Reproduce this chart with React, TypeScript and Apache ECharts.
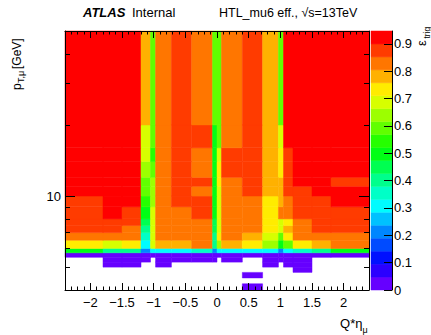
import React, { useEffect, useRef } from 'react';
import * as echarts from 'echarts';

// ---- data ----
const etaEdges = [-2.4, -1.8, -1.5, -1.2, -1.05, -0.97, -0.72, -0.4, -0.07, 0, 0.07, 0.4, 0.72, 0.97, 1.05, 1.2, 1.5, 1.8, 2.4];
const ptEdges = [4, 4.25, 4.5, 4.75, 5, 5.25, 5.5, 5.75, 6, 6.5, 7, 7.5, 8, 9, 10, 11, 12, 14, 16, 20, 50];

const n = null;
// efficiency per pT bin (ascending), 18 eta bins each
const eff: (number | null)[][] = [
  /* 4.00-4.25 */ [n, n, n, n, n, n, n, n, n, n, n, 0.02, n, n, n, n, n, n],
  /* 4.25-4.50 */ [n, n, n, n, n, n, n, n, n, n, n, n, n, n, n, n, n, n],
  /* 4.50-4.75 */ [n, n, n, n, n, n, n, n, n, n, n, 0.02, n, n, n, n, n, n],
  /* 4.75-5.00 */ [n, n, n, n, n, n, n, n, n, n, n, n, n, n, n, 0.02, n, n],
  /* 5.00-5.25 */ [n, 0.02, 0.02, n, n, 0.02, n, n, n, n, n, n, 0.02, n, 0.02, 0.02, n, n],
  /* 5.25-5.50 */ [n, 0.02, 0.02, 0.02, n, 0.02, 0.02, 0.02, 0.02, n, 0.02, n, 0.02, 0.02, 0.02, 0.02, n, n],
  /* 5.50-5.75 */ [0.02, 0.02, 0.02, 0.02, 0.02, 0.02, 0.02, 0.02, 0.02, 0.02, 0.02, 0.02, 0.02, 0.02, 0.02, 0.02, 0.02, 0.02],
  /* 5.75-6.00 */ [0.50, 0.40, 0.40, 0.21, 0.31, 0.31, 0.31, 0.36, 0.21, 0.31, 0.31, 0.31, 0.31, 0.21, 0.31, 0.36, 0.40, 0.50],
  /* 6.0-6.5 */ [0.73, 0.69, 0.73, 0.31, 0.69, 0.78, 0.78, 0.83, 0.40, 0.64, 0.78, 0.73, 0.64, 0.50, 0.59, 0.73, 0.78, 0.83],
  /* 6.5-7.0 */ [0.83, 0.83, 0.83, 0.36, 0.69, 0.83, 0.83, 0.83, 0.40, 0.73, 0.83, 0.78, 0.69, 0.59, 0.73, 0.83, 0.83, 0.83],
  /* 7.0-7.5 */ [0.88, 0.88, 0.83, 0.40, 0.69, 0.83, 0.83, 0.83, 0.45, 0.69, 0.83, 0.83, 0.73, 0.69, 0.78, 0.83, 0.88, 0.88],
  /* 7.5-8.0 */ [0.88, 0.88, 0.88, 0.45, 0.69, 0.83, 0.83, 0.83, 0.45, 0.69, 0.83, 0.83, 0.73, 0.69, 0.73, 0.83, 0.88, 0.88],
  /* 8-9 */ [0.88, 0.93, 0.88, 0.50, 0.69, 0.83, 0.83, 0.88, 0.50, 0.69, 0.83, 0.83, 0.73, 0.83, 0.83, 0.88, 0.88, 0.88],
  /* 9-10 */ [0.88, 0.93, 0.93, 0.55, 0.64, 0.83, 0.88, 0.88, 0.50, 0.69, 0.83, 0.83, 0.73, 0.78, 0.83, 0.88, 0.88, 0.93],
  /* 10-11 */ [0.93, 0.93, 0.93, 0.59, 0.64, 0.83, 0.88, 0.83, 0.50, 0.69, 0.83, 0.88, 0.78, 0.78, 0.88, 0.88, 0.93, 0.93],
  /* 11-12 */ [0.93, 0.93, 0.93, 0.59, 0.64, 0.83, 0.88, 0.88, 0.50, 0.73, 0.83, 0.88, 0.78, 0.78, 0.88, 0.93, 0.93, 0.88],
  /* 12-14 */ [0.93, 0.93, 0.93, 0.64, 0.59, 0.83, 0.88, 0.83, 0.50, 0.73, 0.88, 0.88, 0.78, 0.73, 0.88, 0.93, 0.93, 0.93],
  /* 14-16 */ [0.93, 0.93, 0.93, 0.69, 0.55, 0.83, 0.88, 0.83, 0.50, 0.69, 0.88, 0.88, 0.78, 0.73, 0.88, 0.93, 0.93, 0.93],
  /* 16-20 */ [0.93, 0.93, 0.93, 0.69, 0.59, 0.83, 0.88, 0.88, 0.50, 0.59, 0.83, 0.88, 0.78, 0.69, 0.93, 0.93, 0.93, 0.93],
  /* 20-50 */ [0.93, 0.93, 0.93, 0.78, 0.59, 0.83, 0.88, 0.83, 0.59, 0.59, 0.83, 0.88, 0.78, 0.59, 0.93, 0.93, 0.93, 0.93],
];

const xMajorTicks = [-2, -1.5, -1, -0.5, 0, 0.5, 1, 1.5, 2];
const yMajorTicks = [10];
const yMinorTicks = [5, 6, 7, 8, 9, 20, 30, 40];
const zTicks = [0, 0.1, 0.2, 0.3, 0.4, 0.5, 0.6, 0.7, 0.8, 0.9];
const zMax = 0.947;
const nBands = 20;

// ---- styling helpers ----
const FONT = '"Liberation Sans", Arial, Helvetica, sans-serif';

const xMinorTicks: number[] = [];
for (let i = -24; i <= 24; i++) if (i % 5 !== 0) xMinorTicks.push(i / 10);

function hsv(h: number): string {
  const hh = h / 60;
  const x = 1 - Math.abs((hh % 2) - 1);
  let r = 0, g = 0, b = 0;
  if (hh < 1) { r = 1; g = x; } else if (hh < 2) { r = x; g = 1; } else if (hh < 3) { g = 1; b = x; }
  else if (hh < 4) { g = x; b = 1; } else if (hh < 5) { r = x; b = 1; } else { r = 1; b = x; }
  const to = (v: number) => Math.round(v * 255).toString(16).padStart(2, '0');
  return '#' + to(r) + to(g) + to(b);
}
const palette = Array.from({ length: nBands }, (_, j) => hsv(264 - (j * 264) / (nBands - 1)));
const step = zMax / nBands;
const colorOf = (v: number) => palette[Math.min(nBands - 1, Math.max(0, Math.floor(v / step)))];

const cells: number[][] = [];
eff.forEach((row, i) =>
  row.forEach((v, j) => {
    if (v !== null) cells.push([etaEdges[j], etaEdges[j + 1], Math.log10(ptEdges[i]), Math.log10(ptEdges[i + 1]), v]);
  })
);
const barCells = palette.map((_, k) => [0, 1, k * step, (k + 1) * step, (k + 0.5) * step]);

const renderCell = (_p: any, api: any) => {
  const a = api.coord([api.value(0), api.value(3)]);
  const b = api.coord([api.value(1), api.value(2)]);
  const fill = colorOf(api.value(4));
  return {
    type: 'rect',
    shape: { x: a[0], y: a[1], width: b[0] - a[0], height: b[1] - a[1] },
    style: { fill, stroke: fill, lineWidth: 0.5 },
  };
};

const black = { color: '#000', width: 1 };
const minus = (v: number) => (v < 0 ? '\u2212' : '') + String(Math.abs(+v.toFixed(2)));

const xAxis = (pos: string, ticks: number[], len: number, line: boolean, labels: boolean) => ({
  type: 'value', gridIndex: 0, position: pos, min: -2.4, max: 2.4, z: 10,
  axisLine: { show: line, onZero: false, lineStyle: black },
  axisTick: { show: true, inside: true, length: len, customValues: ticks, lineStyle: black },
  axisLabel: labels
    ? { show: true, customValues: xMajorTicks, formatter: minus, fontSize: 13, color: '#000', margin: 6, fontFamily: FONT }
    : { show: false },
  splitLine: { show: false },
});
const yMin = Math.log10(ptEdges[0]);
const yMax = Math.log10(ptEdges[ptEdges.length - 1]);
const yAxis = (pos: string, ticks: number[], len: number, line: boolean, labels: boolean) => ({
  type: 'value', gridIndex: 0, position: pos, min: yMin, max: yMax, z: 10,
  axisLine: { show: line, onZero: false, lineStyle: black },
  axisTick: { show: true, inside: true, length: len, customValues: ticks.map(Math.log10), lineStyle: black },
  axisLabel: labels
    ? { show: true, customValues: yMajorTicks.map(Math.log10), formatter: (v: number) => String(Math.round(Math.pow(10, v))), fontSize: 13, color: '#000', margin: 4, fontFamily: FONT }
    : { show: false },
  splitLine: { show: false },
});

const option: any = {
  animation: false,
  backgroundColor: '#fff',
  textStyle: { fontFamily: FONT },
  grid: [
    { left: 65, top: 31, width: 304, height: 259 },
    { left: 371, top: 31, width: 21, height: 259 },
  ],
  xAxis: [
    xAxis('bottom', xMajorTicks, 7, true, true),
    xAxis('bottom', xMinorTicks, 3.5, false, false),
    xAxis('top', xMajorTicks, 7, true, false),
    xAxis('top', xMinorTicks, 3.5, false, false),
    { type: 'value', gridIndex: 1, min: 0, max: 1, show: false },
  ],
  yAxis: [
    yAxis('left', yMajorTicks, 10, true, true),
    yAxis('left', yMinorTicks, 5, false, false),
    yAxis('right', yMajorTicks, 10, true, false),
    yAxis('right', yMinorTicks, 5, false, false),
    {
      type: 'value', gridIndex: 1, position: 'right', min: 0, max: zMax, z: 10,
      axisLine: { show: true, onZero: false, lineStyle: black },
      axisTick: { show: true, inside: true, length: 8, customValues: zTicks, lineStyle: black },
      axisLabel: { show: true, customValues: zTicks, formatter: (v: number) => String(+v.toFixed(1)), fontSize: 13, color: '#000', margin: 2, fontFamily: FONT },
      splitLine: { show: false },
    },
  ],
  series: [
    { type: 'custom', xAxisIndex: 0, yAxisIndex: 0, data: cells, encode: { x: [0, 1], y: [2, 3] }, renderItem: renderCell, z: 2 },
    { type: 'custom', xAxisIndex: 4, yAxisIndex: 4, data: barCells, encode: { x: [0, 1], y: [2, 3] }, renderItem: renderCell, z: 2 },
  ],
  graphic: [
    { type: 'text', x: 83, y: 12.8, style: { text: 'ATLAS', font: `italic bold 13px ${FONT}`, fill: '#000', verticalAlign: 'middle' } },
    { type: 'text', x: 132, y: 12.8, style: { text: 'Internal', font: `13px ${FONT}`, fill: '#000', verticalAlign: 'middle' } },
    { type: 'text', x: 219, y: 12.8, style: { text: 'HTL_mu6 eff., \u221As=13TeV', font: `12.5px ${FONT}`, fill: '#000', verticalAlign: 'middle' } },
    { type: 'text', x: 362.5, y: 323.8, style: { text: 'Q*\u03B7', font: `13px ${FONT}`, fill: '#000', align: 'right', verticalAlign: 'middle' } },
    { type: 'text', x: 362.5, y: 330, style: { text: '\u03BC', font: `9px ${FONT}`, fill: '#000', verticalAlign: 'middle' } },
    {
      type: 'group', x: 21, y: 90, rotation: Math.PI / 2,
      children: [
        { type: 'text', x: 0, y: -4.2, style: { text: 'p', font: `12px ${FONT}`, fill: '#000', verticalAlign: 'middle' } },
        { type: 'text', x: 7, y: 0, style: { text: 'T,\u03BC', font: `9px ${FONT}`, fill: '#000', verticalAlign: 'middle' } },
        { type: 'text', x: 21, y: -4.2, style: { text: '[GeV]', font: `12px ${FONT}`, fill: '#000', verticalAlign: 'middle' } },
      ],
    },
    {
      type: 'group', x: 425.5, y: 46, rotation: Math.PI / 2,
      children: [
        { type: 'text', x: 0, y: -4.5, style: { text: '\u03B5', font: `13px ${FONT}`, fill: '#000', verticalAlign: 'middle' } },
        { type: 'text', x: 7.5, y: 1, style: { text: 'trig', font: `8.5px ${FONT}`, fill: '#000', verticalAlign: 'middle' } },
      ],
    },
  ],
};

export default function App() {
  const ref = useRef<HTMLDivElement>(null);
  useEffect(() => {
    const chart = echarts.init(ref.current!, null, { renderer: 'svg' });
    chart.setOption(option);
    return () => chart.dispose();
  }, []);
  return <div ref={ref} style={{ position: 'fixed', left: 0, top: 0, width: 431, height: 335, background: '#fff' }} />;
}
